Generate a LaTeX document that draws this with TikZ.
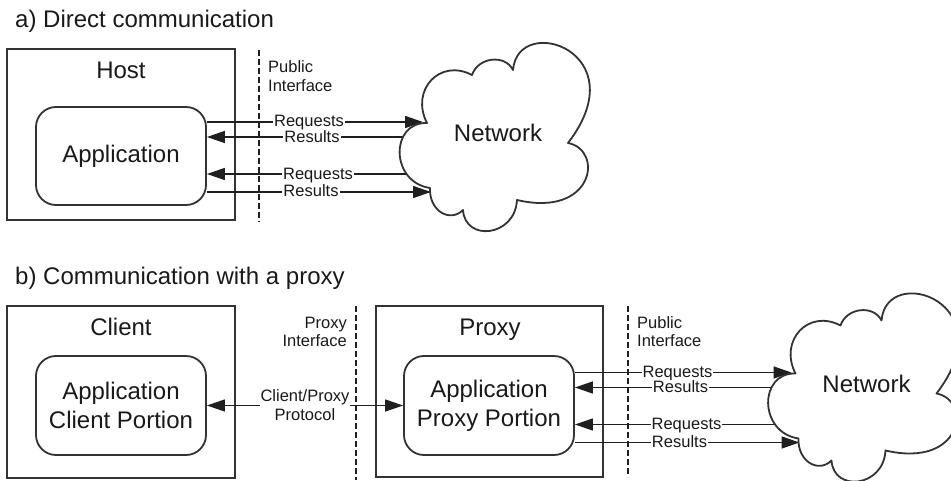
\documentclass[tikz,border=0pt]{standalone}
\usepackage{fontspec}
\setmainfont{Liberation Sans}
\usetikzlibrary{arrows.meta}

% Network side of a link: arrows from an application node into a cloud
% #1 = application node, #2 = name prefix
\newcommand\netside[2]{%
  \coordinate (#2rq1) at (423,122);
  \coordinate (#2rs1) at (409,137);
  \coordinate (#2rq2) at (409,174);
  \coordinate (#2rs2) at (431,192);
  \draw[arr,tip] (#1.east |- #2rq1) -- (#2rq1);
  \draw[arr,tip] (#2rs1) -- (#1.east |- #2rs1);
  \draw[arr,tip] (#2rq2) -- (#1.east |- #2rq2);
  \draw[arr,tip] (#1.east |- #2rs2) -- (#2rs2);
  \draw[cloud] (427,123)
     .. controls (410,90) and (440,58) .. (472,75)
     .. controls (478,57) and (505,54) .. (513,70)
     .. controls (518,12) and (638,52) .. (568,143)
     .. controls (604,150) and (594,218) .. (517,200)
     .. controls (515,237) and (465,242) .. (463,210)
     .. controls (450,223) and (429,211) .. (430,188)
     .. controls (390,182) and (390,122) .. (427,123) -- cycle;
  \node[big, anchor=base] (#2net) at (498,141.7) {Network};
  \node[msg] (#2m1) at (309,127) {Requests};
  \node[msg] (#2m2) at (312,142.3) {Results};
  \node[msg] (#2m3) at (318,179.3) {Requests};
  \node[msg] (#2m4) at (311,197) {Results};
}

\begin{document}
\begin{tikzpicture}[
  x=1pt, y=-1pt,
  ink/.style={draw=black!80, line width=1.8pt},
  outerbox/.style={ink, rectangle, inner sep=0pt},
  appbox/.style={ink, rectangle, rounded corners=20pt, inner sep=0pt,
    minimum width=170pt, align=center,
    font=\fontsize{24}{29}\selectfont, text=black!90},
  big/.style={font=\fontsize{24}{29}\selectfont, text=black!90, inner sep=0pt},
  small/.style={font=\fontsize{16.5}{18.5}\selectfont, text=black!90, inner sep=0pt},
  msg/.style={small, anchor=base, fill=white, inner xsep=1pt, inner ysep=0.5pt},
  arr/.style={draw=black!88, line width=1.5pt},
  head/.tip={Triangle[length=18pt,width=12pt]},
  tip/.style={-head},
  iface/.style={draw=black!88, line width=2.2pt, dash pattern=on 6pt off 3pt},
  cloud/.style={ink, fill=white, line join=round},
]
\useasboundingbox (0,0) rectangle (951,481);

% ---------- a) direct communication ----------
\node[big, anchor=base west] (ta) at (15,28) {a) Direct communication};
\node[outerbox, minimum width=228pt, minimum height=171pt] (host) at (121,134.5) {};
\node[big, anchor=base] (hostlbl) at (121,79) {Host};
\node[appbox, minimum height=98pt] (app) at (121,156) {Application};
\netside{app}{a}
\draw[iface] (259,50) -- (259,222);
\node[small, anchor=base west] (pubA) at (268,73)
  {\begin{tabular}[t]{@{}l@{}}Public\\Interface\end{tabular}};

% ---------- b) communication with a proxy ----------
\node[big, anchor=base west] (tb) at (15,284) {b) Communication with a proxy};
\node[outerbox, minimum width=228pt, minimum height=172pt] (client) at (121,392) {};
\node[big, anchor=base] (clientlbl) at (121,335) {Client};
\node[appbox, minimum height=99pt] (capp) at (121,405.5) {Application\\Client Portion};
\node[outerbox, minimum width=227pt, minimum height=171pt] (proxy) at (489.5,391.5) {};
\node[big, anchor=base] (proxylbl) at (490,335) {Proxy};
\node[appbox, minimum height=99pt] (papp) at (489,405.5) {Application\\Proxy Portion};

\draw[arr,head-head] (capp.east) -- (papp.west);
\node[small, anchor=base, fill=white, inner xsep=1pt] (cpp) at (305,401.5)
  {\begin{tabular}[t]{@{}c@{}}Client/Proxy\\Protocol\end{tabular}};
\draw[iface] (356,306) -- (356,480);
\node[small, anchor=base east] (pxif) at (347,328)
  {\begin{tabular}[t]{@{}r@{}}Proxy\\Interface\end{tabular}};

\begin{scope}[shift={(368.5,250.5)}]
  \netside{papp}{b}
\end{scope}
\draw[iface] (628,306) -- (628,477);
\node[small, anchor=base west] (pubB) at (637,328)
  {\begin{tabular}[t]{@{}l@{}}Public\\Interface\end{tabular}};
\end{tikzpicture}
\end{document}
